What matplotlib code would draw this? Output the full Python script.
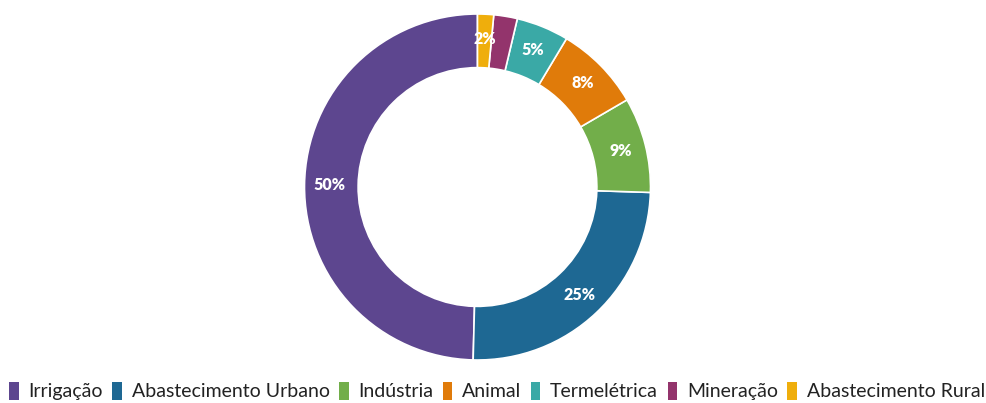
import matplotlib
matplotlib.use("Agg")
import matplotlib.pyplot as plt
from matplotlib.patches import Patch
import numpy as np

# uso da água por setor (%)
setores = ["Irrigação", "Abastecimento Urbano", "Indústria", "Animal",
           "Termelétrica", "Mineração", "Abastecimento Rural"]
valores = [49.6, 24.9, 8.9, 8.0, 4.9, 2.2, 1.5]
cores = ["#5D468F", "#1E6893", "#72AE4A", "#E07B0A",
         "#3AA9A6", "#93346C", "#EFAE0C"]
# setores sem rótulo no anel
sem_rotulo = ["Mineração"]

plt.rcParams["font.family"] = ["Lato", "DejaVu Sans"]

W, H = 986, 403
fig = plt.figure(figsize=(W / 100, H / 100), dpi=100)
cx, cy, r = 477.5, 187, 173
ax = fig.add_axes([(cx - r) / W, (H - cy - r) / H, 2 * r / W, 2 * r / H])

wedges, _ = ax.pie(valores, colors=cores, startangle=90, counterclock=True,
                   radius=1.0,
                   wedgeprops=dict(width=0.31, edgecolor="white", linewidth=1.2))

for w, v, nome in zip(wedges, valores, setores):
    if nome in sem_rotulo:
        continue
    ang = np.deg2rad((w.theta1 + w.theta2) / 2)
    ax.text(0.855 * np.cos(ang), 0.855 * np.sin(ang), f"{v:.0f}%",
            ha="center", va="center", color="white", fontsize=11.5,
            fontweight="heavy")

ax.set_xlim(-1, 1)
ax.set_ylim(-1, 1)
ax.set_aspect("equal")
ax.axis("off")

handles = [Patch(facecolor=c, edgecolor="none") for c in cores]
leg = fig.legend(handles, setores, loc="center",
                 bbox_to_anchor=(497 / W, 1 - 391 / H),
                 ncol=7, frameon=False, fontsize=14, handlelength=0.48,
                 handleheight=1.1, handletextpad=0.5, columnspacing=0.5)
for t in leg.get_texts():
    t.set_color("#222222")

fig.savefig("out.png", dpi=100)
